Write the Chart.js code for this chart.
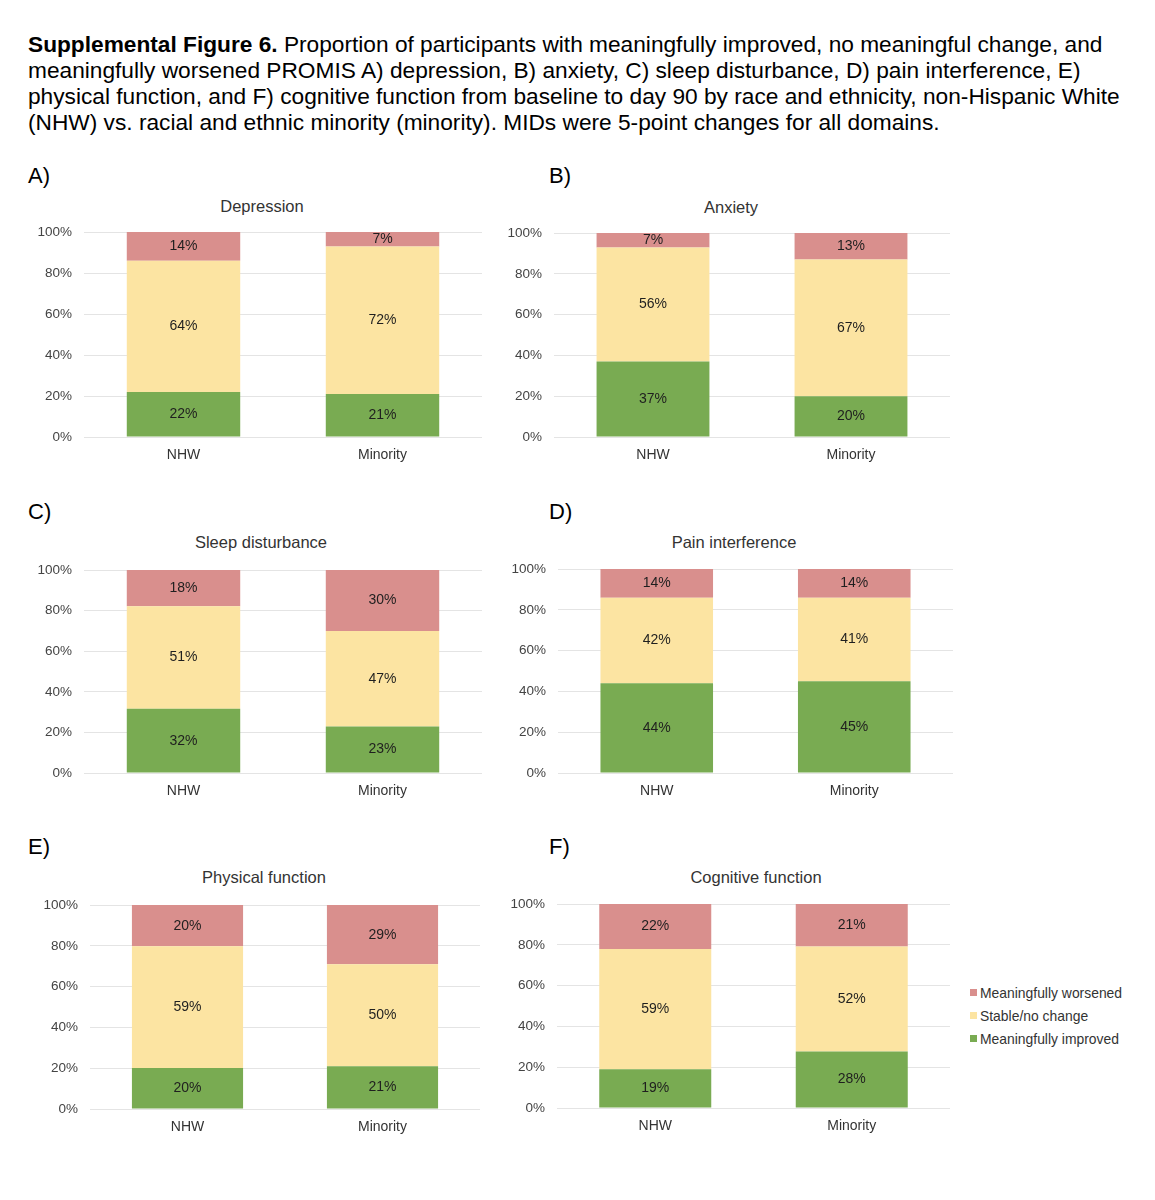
<!DOCTYPE html>
<html>
<head>
<meta charset="utf-8">
<script src="https://cdn.jsdelivr.net/npm/chart.js@4.4.1/dist/chart.umd.min.js"></script>
<style>
  body { margin: 0; background: #fff; font-family: "Liberation Sans", Arial, sans-serif; }
  #page { position: relative; width: 1155px; height: 1200px; }
  .caption { position: absolute; left: 28px; top: 31px; font-size: 22.7px; line-height: 26px; color: #000; white-space: nowrap; }
  .letter { position: absolute; font-size: 22px; color: #000; }
  .ptitle { position: absolute; font-size: 16.5px; line-height: 19px; color: #333; transform: translateX(-50%); white-space: nowrap; }
  .box { position: absolute; }
  .legend { position: absolute; left: 970px; top: 981px; font-size: 13.9px; color: #333; }
  .legend div { height: 23px; display: flex; align-items: center; }
  .legend span { display: inline-block; width: 7px; height: 7px; margin-right: 3px; }
</style>
</head>
<body>
<div id="page">
  <div class="caption"><b>Supplemental Figure 6.</b> Proportion of participants with meaningfully improved, no meaningful change, and<br>meaningfully worsened PROMIS A) depression, B) anxiety, C) sleep disturbance, D) pain interference, E)<br>physical function, and F) cognitive function from baseline to day 90 by race and ethnicity, non-Hispanic White<br>(NHW) vs. racial and ethnic minority (minority). MIDs were 5-point changes for all domains.</div>
  <div class="legend" id="legend"></div>
</div>
<script>
// categories and series
const groups = ['NHW', 'Minority'];
const seriesNames = ['Meaningfully improved', 'Stable/no change', 'Meaningfully worsened'];
const seriesColors = ['#79ab52', '#fce4a2', '#d98f8d'];

// values per panel, [NHW, Minority]
const depImproved = [22, 21], depStable = [64, 72], depWorse = [14, 7];
const anxImproved = [37, 20], anxStable = [56, 67], anxWorse = [7, 13];
const sleepImproved = [32, 23], sleepStable = [51, 47], sleepWorse = [18, 30];
const painImproved = [44, 45], painStable = [42, 41], painWorse = [14, 14];
const physImproved = [20, 21], physStable = [59, 50], physWorse = [20, 29];
const cogImproved = [19, 28], cogStable = [59, 52], cogWorse = [22, 21];

const yTicks = [0, 20, 40, 60, 80, 100];

// panel layout: plot area in page pixels
const panels = [
  { letter: 'A)', lx: 28, ly: 163, title: 'Depression', tx: 262, ty: 197, l: 84, r: 482, t: 232, b: 437, vals: [depImproved, depStable, depWorse] },
  { letter: 'B)', lx: 549, ly: 163, title: 'Anxiety', tx: 731, ty: 198, l: 554, r: 950, t: 233, b: 437, vals: [anxImproved, anxStable, anxWorse] },
  { letter: 'C)', lx: 28, ly: 499, title: 'Sleep disturbance', tx: 261, ty: 533, l: 84, r: 482, t: 570, b: 773, vals: [sleepImproved, sleepStable, sleepWorse] },
  { letter: 'D)', lx: 549, ly: 499, title: 'Pain interference', tx: 734, ty: 533, l: 558, r: 953, t: 569, b: 773, vals: [painImproved, painStable, painWorse] },
  { letter: 'E)', lx: 28, ly: 834, title: 'Physical function', tx: 264, ty: 868, l: 90, r: 480, t: 905, b: 1109, vals: [physImproved, physStable, physWorse] },
  { letter: 'F)', lx: 549, ly: 834, title: 'Cognitive function', tx: 756, ty: 868, l: 557, r: 950, t: 904, b: 1108, vals: [cogImproved, cogStable, cogWorse] }
];

const AXW = 70, PADT = 4, PADR = 10, AXH = 34;
const FONT = '"Liberation Sans", Arial, sans-serif';

// draws the raw percentage in the middle of each segment
const segLabels = {
  id: 'segLabels',
  afterDatasetsDraw(chart) {
    const ctx = chart.ctx;
    ctx.save();
    ctx.font = '14px ' + FONT;
    ctx.fillStyle = '#1f1f1f';
    ctx.textAlign = 'center';
    ctx.textBaseline = 'middle';
    chart.data.datasets.forEach((ds, i) => {
      chart.getDatasetMeta(i).data.forEach((bar, j) => {
        const mid = (bar.y + bar.base) / 2;
        ctx.fillText(ds.raw[j] + '%', bar.x, mid);
      });
    });
    ctx.restore();
  }
};

const page = document.getElementById('page');

panels.forEach(p => {
  const letter = document.createElement('div');
  letter.className = 'letter';
  letter.style.left = p.lx + 'px';
  letter.style.top = p.ly + 'px';
  letter.textContent = p.letter;
  page.appendChild(letter);

  const title = document.createElement('div');
  title.className = 'ptitle';
  title.style.left = p.tx + 'px';
  title.style.top = p.ty + 'px';
  title.textContent = p.title;
  page.appendChild(title);

  let w = (p.r - p.l) + AXW + PADR;
  let h = (p.b - p.t) + PADT + AXH;
  const box = document.createElement('div');
  box.className = 'box';
  box.style.left = (p.l - AXW) + 'px';
  box.style.top = (p.t - PADT) + 'px';
  box.style.width = w + 'px';
  box.style.height = h + 'px';
  const canvas = document.createElement('canvas');
  box.appendChild(canvas);
  page.appendChild(box);

  // 100% stacked: share of the group's total
  const totals = groups.map((g, j) => p.vals.reduce((s, v) => s + v[j], 0));
  const datasets = p.vals.map((v, i) => ({
    label: seriesNames[i],
    data: v.map((x, j) => x / totals[j] * 100),
    raw: v,
    backgroundColor: seriesColors[i],
    borderWidth: 0,
    categoryPercentage: 1,
    barPercentage: 0.57
  }));

  const chart = new Chart(canvas, {
    type: 'bar',
    data: { labels: groups, datasets: datasets },
    options: {
      responsive: true,
      maintainAspectRatio: false,
      animation: false,
      layout: { padding: { top: PADT, right: PADR, left: 0, bottom: 0 } },
      plugins: { legend: { display: false }, tooltip: { enabled: false } },
      scales: {
        x: {
          stacked: true,
          grid: { display: false },
          border: { display: false },
          ticks: { padding: 2, color: '#333', font: { size: 14, family: FONT } },
          afterFit(scale) { scale.height = AXH; }
        },
        y: {
          stacked: true,
          min: 0,
          max: 100,
          afterBuildTicks(scale) { scale.ticks = yTicks.map(v => ({ value: v })); },
          grid: { color: '#e4e4e4', drawTicks: false, lineWidth: 1 },
          border: { display: false },
          ticks: {
            padding: 12,
            color: '#444',
            font: { size: 13.5, family: FONT },
            callback: v => v + '%'
          },
          afterFit(scale) { scale.width = AXW; }
        }
      }
    },
    plugins: [segLabels]
  });

  // shift the box so the plot area lands on the panel rectangle
  const a = chart.chartArea;
  box.style.top = (p.t - a.top) + 'px';
  box.style.left = (p.l - a.left) + 'px';
  box.style.height = (h + (p.b - p.t) - (a.bottom - a.top)) + 'px';
  box.style.width = (w + (p.r - p.l) - (a.right - a.left)) + 'px';
  chart.resize();
});

// legend, top entry is the top segment
const legend = document.getElementById('legend');
[2, 1, 0].forEach(i => {
  const row = document.createElement('div');
  const sw = document.createElement('span');
  sw.style.background = seriesColors[i];
  row.appendChild(sw);
  row.appendChild(document.createTextNode(seriesNames[i]));
  legend.appendChild(row);
});
</script>
</body>
</html>
